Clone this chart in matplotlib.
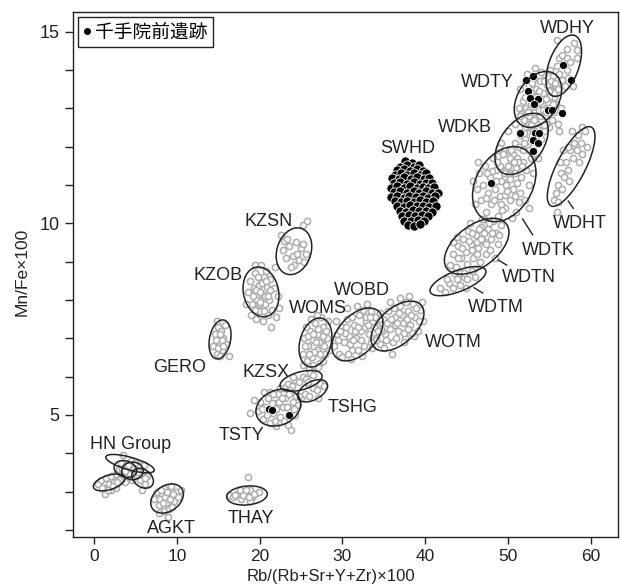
import numpy as np
import matplotlib
matplotlib.use("Agg")
import matplotlib.pyplot as plt
from matplotlib.patches import Ellipse
from matplotlib.lines import Line2D

plt.rcParams['font.family'] = ['Liberation Sans', 'Noto Sans CJK JP', 'DejaVu Sans']

# ---- reference groups: gray points (Rb ratio, Mn/Fe) ----
WDHY = [(55.88, 14.78), (57.09, 14.54), (58.3, 14.52), (56.16, 14.31), (57.09, 14.31),
        (55.88, 14.09), (57.09, 14.0), (55.47, 13.83), (56.49, 13.74), (56.88, 13.57),
        (57.89, 13.58), (55.68, 13.61), (55.07, 13.48), (58.3, 14.31), (56.5, 14.4),
        (57.5, 14.2), (56.2, 13.9), (57.3, 13.8), (58.0, 14.7), (55.6, 13.3)]
WDTY = [(51.5, 13.5), (51.8, 13.2), (52.0, 13.7), (52.3, 13.9), (52.6, 13.6), (52.9, 13.4),
        (53.1, 13.8), (53.4, 13.5), (53.6, 13.2), (53.9, 13.7), (54.2, 13.4), (54.4, 13.9),
        (54.7, 13.6), (55.0, 13.3), (55.2, 13.7), (55.5, 13.4), (55.8, 13.1), (52.2, 13.0),
        (52.5, 12.8), (52.8, 13.1), (53.2, 12.9), (53.5, 12.6), (53.8, 12.95), (54.1, 13.1),
        (54.5, 12.8), (54.8, 13.0), (55.3, 12.7), (55.6, 12.9), (51.9, 12.7), (52.4, 12.5),
        (53.0, 12.4), (53.7, 12.5), (54.3, 12.4), (55.0, 12.5), (56.0, 12.6), (51.3, 13.0),
        (53.3, 14.05), (54.0, 13.95), (55.1, 14.0), (56.1, 13.5), (56.4, 13.0), (52.7, 13.35),
        (54.6, 13.25), (53.0, 13.15), (51.6, 12.85), (56.2, 12.4),
        (52.1, 13.3), (52.9, 13.65), (53.4, 13.3), (53.8, 13.45), (54.2, 12.95), (54.9, 13.45),
        (55.4, 13.1), (53.3, 12.75), (54.6, 12.6), (55.7, 13.65), (52.6, 12.95), (53.9, 13.15),
        (54.4, 13.7)]
WDKB = [(49.0, 11.5), (49.4, 11.8), (49.8, 11.4), (50.1, 11.9), (50.4, 11.6), (50.8, 12.1),
        (51.1, 11.7), (51.4, 12.3), (51.7, 11.95), (52.0, 12.5), (52.3, 12.15), (52.6, 12.6),
        (52.9, 12.3), (53.2, 12.7), (53.5, 12.45), (53.9, 12.8), (54.3, 12.55), (49.6, 11.2),
        (50.3, 11.3), (51.0, 11.45), (51.8, 11.6), (52.5, 11.9), (53.0, 12.0), (54.0, 12.2),
        (49.2, 12.1), (50.0, 12.4), (50.9, 12.6), (51.5, 12.8), (52.4, 12.9), (48.8, 11.75),
        (54.6, 12.9), (53.6, 11.7), (50.6, 11.8), (51.3, 12.0), (52.1, 12.2), (52.8, 12.55),
        (51.9, 12.35), (50.2, 11.7), (53.3, 12.4)]
WDTK = [(46.2, 10.9), (46.5, 11.3), (46.8, 10.6), (47.0, 11.0), (47.2, 11.5), (47.4, 10.3),
        (47.6, 10.8), (47.8, 11.2), (48.0, 10.5), (48.2, 11.7), (48.4, 10.9), (48.6, 11.4),
        (48.8, 10.2), (49.0, 10.7), (49.2, 11.1), (49.4, 11.8), (49.6, 10.4), (49.8, 11.0),
        (50.0, 11.5), (50.2, 10.6), (50.4, 11.9), (50.6, 10.9), (50.8, 11.3), (51.0, 10.3),
        (51.2, 11.6), (51.4, 10.8), (51.6, 11.2), (51.8, 11.9), (52.0, 10.6), (52.2, 11.4),
        (52.5, 11.0), (52.8, 11.7), (47.1, 10.1), (46.4, 11.6), (48.9, 11.95), (50.5, 10.15),
        (49.3, 10.35), (47.9, 10.05), (52.6, 10.4), (46.0, 10.5), (48.3, 10.6), (51.1, 11.05),
        (50.1, 11.25), (49.7, 10.75), (48.1, 11.35), (53.0, 11.3), (45.8, 11.1), (51.9, 12.1),
        (47.3, 10.65), (48.5, 11.1), (49.1, 10.5), (49.9, 10.85), (50.7, 11.6), (51.3, 10.55),
        (48.7, 11.6), (50.3, 11.15), (51.7, 11.5), (47.5, 11.3), (50.9, 10.7), (49.5, 11.3)]
WDHT = [(55.5, 10.6), (55.8, 10.8), (56.0, 10.55), (56.1, 11.0), (56.5, 10.9), (56.4, 11.3),
        (56.8, 11.2), (57.0, 11.6), (57.3, 11.4), (57.5, 11.9), (57.8, 11.7), (58.0, 12.1),
        (58.3, 11.9), (58.5, 12.3), (58.8, 12.1), (59.0, 12.5), (59.3, 12.4), (57.2, 12.0),
        (58.6, 11.6), (56.7, 11.9), (59.5, 12.0), (55.9, 10.3), (57.7, 12.4), (58.9, 11.8),
        (56.3, 11.6), (57.4, 11.1)]
WDTN = [(43.0, 8.9), (43.4, 9.2), (43.7, 8.85), (44.0, 9.4), (44.3, 9.1), (44.6, 9.6),
        (44.9, 9.25), (45.2, 9.8), (45.5, 9.45), (45.8, 9.1), (46.1, 9.7), (46.4, 9.35),
        (46.7, 9.9), (47.0, 9.55), (47.3, 9.2), (47.6, 9.85), (47.9, 9.6), (48.2, 10.05),
        (48.5, 9.75), (48.8, 9.45), (49.1, 9.95), (44.2, 8.7), (45.0, 8.95), (45.9, 8.8),
        (46.6, 9.0), (47.8, 9.3), (43.8, 9.65), (45.4, 10.0), (46.9, 10.1), (48.4, 9.1),
        (44.7, 8.6), (46.2, 9.5), (47.1, 9.75), (43.3, 9.5), (44.5, 9.35), (45.3, 9.55),
        (45.7, 9.75), (46.3, 9.2), (46.8, 9.6), (47.4, 9.45), (47.7, 10.0), (48.1, 9.75),
        (44.0, 9.1), (45.6, 9.3), (46.5, 9.85), (48.9, 9.7)]
WDTM = [(41.8, 8.3), (42.4, 8.2), (42.9, 8.45), (43.3, 8.3), (43.8, 8.55), (44.2, 8.4),
        (44.7, 8.7), (45.1, 8.55), (45.6, 8.75), (46.0, 8.6), (43.5, 8.7), (44.9, 8.3),
        (42.6, 8.55)]
WOTM = [(34.0, 7.0), (34.3, 7.3), (34.6, 6.85), (34.9, 7.5), (35.2, 7.1), (35.5, 7.7),
        (35.8, 7.25), (36.1, 6.9), (36.4, 7.55), (36.7, 7.2), (37.0, 7.85), (37.3, 7.4),
        (37.6, 7.0), (37.9, 7.7), (38.2, 7.35), (38.5, 7.9), (38.8, 7.55), (39.1, 7.2),
        (39.4, 7.75), (35.0, 6.75), (36.0, 6.6), (37.5, 6.9), (38.6, 7.05), (35.7, 7.95),
        (36.9, 8.05), (38.0, 8.1), (34.5, 7.65), (39.7, 7.45), (36.3, 7.35), (37.2, 7.6),
        (34.8, 7.2), (35.4, 7.4), (35.9, 7.5), (36.5, 7.0), (36.8, 7.65), (37.4, 7.15),
        (37.8, 7.5), (38.3, 7.6), (38.9, 7.8), (39.2, 7.45), (35.3, 6.95), (36.2, 7.8),
        (37.7, 7.95), (38.4, 7.15), (39.6, 7.95), (34.2, 7.5), (36.6, 7.4), (37.9, 7.25)]
WOBD = [(29.0, 6.8), (29.3, 7.1), (29.6, 6.6), (29.9, 7.3), (30.2, 6.9), (30.5, 7.5),
        (30.8, 7.05), (31.1, 6.7), (31.4, 7.35), (31.7, 7.0), (32.0, 7.6), (32.3, 7.2),
        (32.6, 6.8), (32.9, 7.45), (33.2, 7.1), (33.5, 7.7), (33.8, 7.3), (34.1, 6.95),
        (34.4, 7.5), (30.0, 6.5), (31.0, 6.45), (32.4, 6.55), (33.6, 6.75), (30.6, 7.8),
        (31.8, 7.85), (33.0, 7.9), (29.2, 7.45), (34.7, 7.25), (31.5, 7.2), (32.8, 7.55),
        (29.5, 6.95), (30.3, 7.15), (30.9, 6.85), (31.3, 6.95), (31.9, 7.3), (32.2, 6.95),
        (32.7, 7.3), (33.1, 7.35), (33.4, 6.9), (30.4, 7.3), (31.2, 7.55), (32.5, 7.75),
        (33.9, 7.55), (30.7, 6.6), (31.9, 6.7), (33.3, 7.55), (29.7, 7.2), (34.3, 7.2)]
WOMS = [(25.2, 6.6), (25.4, 7.0), (25.7, 6.4), (25.9, 6.8), (26.1, 7.2), (26.3, 6.5),
        (26.5, 6.95), (26.7, 7.4), (26.9, 6.7), (27.1, 7.1), (27.3, 6.35), (27.5, 6.85),
        (27.7, 7.3), (27.9, 6.6), (28.1, 7.0), (28.3, 7.45), (25.6, 7.3), (26.2, 7.5),
        (27.4, 7.55), (28.4, 6.7), (26.0, 6.2), (27.0, 6.25), (26.6, 6.65), (27.2, 6.9),
        (25.5, 6.8), (25.8, 7.05), (26.0, 6.6), (26.4, 7.1), (26.8, 6.9), (27.0, 7.25),
        (27.3, 6.6), (27.6, 7.05), (27.8, 6.8), (28.0, 7.2), (26.4, 6.3), (27.6, 6.4),
        (25.3, 6.3), (26.9, 7.6)]
KZSX = [(22.9, 5.7), (23.4, 5.8), (23.9, 5.75), (24.3, 5.9), (24.8, 5.85), (25.2, 6.0),
        (25.6, 5.95), (26.1, 6.1), (26.5, 6.05), (24.0, 6.0), (25.9, 5.8), (23.6, 5.65)]
TSHG = [(25.0, 5.45), (25.5, 5.55), (26.0, 5.5), (26.4, 5.7), (26.9, 5.65), (27.3, 5.8),
        (27.8, 5.75), (25.8, 5.85), (27.0, 5.45)]
TSTY = [(19.8, 5.1), (20.1, 5.35), (20.4, 4.9), (20.7, 5.2), (21.0, 5.45), (21.3, 4.8),
        (21.6, 5.05), (21.9, 5.3), (22.2, 5.55), (22.5, 4.95), (22.8, 5.2), (23.1, 5.45),
        (23.4, 4.75), (23.7, 5.1), (24.0, 5.35), (24.3, 5.0), (24.6, 5.25), (22.0, 4.7),
        (21.2, 5.6), (23.0, 5.7), (24.8, 5.5), (18.8, 5.05), (19.3, 5.4), (20.5, 5.6),
        (23.8, 4.6), (20.9, 5.0), (21.5, 5.3), (22.0, 5.15), (22.4, 5.35), (22.7, 5.45),
        (23.3, 5.2), (23.5, 5.55), (24.1, 5.15), (21.8, 4.85), (22.9, 4.85), (20.3, 5.15),
        (24.4, 5.5), (22.5, 5.7), (21.6, 5.55)]
KZSN = [(22.8, 9.3), (23.0, 9.55), (23.3, 9.6), (23.6, 9.4), (24.0, 9.15), (24.2, 8.9),
        (24.5, 9.2), (24.8, 9.05), (25.0, 9.35), (25.3, 9.45), (25.6, 9.2), (23.8, 8.85),
        (24.4, 9.5), (23.2, 9.1), (25.4, 9.0), (25.2, 9.95), (25.7, 10.05), (22.6, 9.7)]
KZOB = [(18.6, 8.2), (18.9, 8.5), (19.1, 7.9), (19.3, 8.3), (19.5, 8.7), (19.7, 8.0),
        (19.9, 8.4), (20.1, 7.7), (20.3, 8.15), (20.5, 8.6), (20.7, 7.9), (20.9, 8.35),
        (21.1, 8.0), (21.3, 8.55), (21.5, 7.75), (19.0, 7.6), (19.6, 7.5), (20.4, 7.45),
        (21.0, 7.6), (19.4, 8.9), (20.2, 8.9), (20.8, 8.75), (21.7, 8.3), (22.2, 8.1),
        (22.0, 7.55), (18.4, 7.9), (21.4, 7.3), (21.9, 8.85), (22.4, 7.8), (19.2, 8.1),
        (19.6, 8.25), (19.9, 7.9), (20.0, 8.2), (20.3, 8.45), (20.6, 8.1), (20.0, 7.95),
        (20.8, 8.5), (19.8, 8.6), (21.2, 8.25), (20.5, 7.7), (19.4, 7.75), (21.0, 8.1)]
GERO = [(14.4, 6.8), (14.6, 7.1), (14.8, 6.6), (15.0, 7.3), (15.1, 6.9), (15.3, 7.2),
        (15.5, 6.7), (15.6, 7.0), (15.8, 7.35), (15.2, 6.55), (14.9, 7.45), (16.0, 6.85),
        (16.3, 6.55), (15.0, 6.75), (15.4, 6.95), (15.2, 7.1), (15.6, 6.8), (14.7, 6.95)]
HN = [(0.5, 3.2), (0.9, 3.3), (1.2, 3.1), (1.5, 3.35), (1.8, 3.2), (2.1, 3.4), (2.4, 3.25),
      (2.7, 3.45), (3.0, 3.3), (1.3, 2.95), (2.0, 3.05), (2.6, 3.1), (3.0, 3.6), (3.3, 3.75),
      (3.6, 3.5), (3.9, 3.7), (4.2, 3.55), (4.5, 3.8), (4.8, 3.6), (5.1, 3.45), (5.4, 3.7),
      (3.5, 3.95), (4.0, 3.35), (4.6, 3.3), (5.6, 3.3), (5.9, 3.5), (6.2, 3.2), (6.4, 3.4),
      (5.8, 3.05), (6.0, 3.7), (3.7, 3.25), (1.0, 3.1), (1.7, 3.05), (2.3, 3.15), (2.8, 3.25),
      (3.4, 3.6), (4.1, 3.7), (4.4, 3.45), (4.9, 3.75), (3.8, 3.55), (5.7, 3.45), (6.1, 3.35),
      (5.3, 3.5)]
AGKT = [(7.3, 2.8), (7.6, 3.0), (7.9, 2.65), (8.2, 2.9), (8.5, 3.1), (8.7, 2.7), (9.0, 2.95),
        (9.3, 3.15), (9.6, 2.75), (9.9, 3.0), (10.2, 2.85), (8.4, 2.5), (9.1, 2.55),
        (10.5, 3.05), (7.8, 2.45), (8.9, 2.35), (8.0, 2.8), (8.6, 2.85), (8.8, 3.0),
        (9.2, 2.8), (9.5, 2.95), (8.3, 2.7), (9.4, 2.6), (8.1, 3.05)]
THAY = [(16.3, 2.9), (16.8, 2.85), (17.3, 2.95), (17.8, 2.8), (18.2, 3.0), (18.5, 2.9),
        (18.8, 3.05), (19.1, 2.85), (19.5, 2.95), (19.9, 3.0), (17.6, 3.05), (18.9, 2.75),
        (18.63, 3.37), (17.0, 2.9), (18.0, 2.9), (18.4, 3.05), (19.3, 2.95), (18.7, 2.85)]

# ---- 千手院前遺跡 artefacts (black) ----
SITE_SWHD = [(37.6, 11.62), (38.4, 11.58),
             (37.0, 11.48), (37.8, 11.52), (38.7, 11.47), (39.3, 11.53),
             (36.6, 11.38), (37.4, 11.42), (38.2, 11.36), (39.0, 11.41), (39.7, 11.37),
             (36.3, 11.27), (37.1, 11.31), (37.8, 11.25), (38.6, 11.30), (39.4, 11.26), (40.1, 11.32),
             (36.0, 11.18), (36.8, 11.15), (37.5, 11.20), (38.3, 11.16), (39.0, 11.21), (39.8, 11.15),
             (40.5, 11.19),
             (36.2, 11.05), (37.0, 11.08), (37.8, 11.03), (38.6, 11.07), (39.4, 11.02), (40.1, 11.06),
             (40.8, 11.04),
             (35.9, 10.93), (36.6, 10.96), (37.4, 10.92), (38.2, 10.97), (39.0, 10.93), (39.7, 10.95),
             (40.4, 10.91), (41.1, 10.95),
             (36.2, 10.82), (37.0, 10.85), (37.8, 10.80), (38.6, 10.84), (39.3, 10.79), (40.1, 10.83),
             (40.8, 10.80), (41.5, 10.78),
             (35.9, 10.69), (36.6, 10.72), (37.4, 10.67), (38.1, 10.71), (38.9, 10.68), (39.7, 10.72),
             (40.4, 10.67), (41.2, 10.70),
             (36.3, 10.58), (37.1, 10.55), (37.8, 10.59), (38.6, 10.56), (39.4, 10.60), (40.1, 10.55),
             (40.9, 10.58),
             (36.6, 10.45), (37.4, 10.43), (38.2, 10.47), (39.0, 10.44), (39.7, 10.46), (40.5, 10.42),
             (41.3, 10.46),
             (36.9, 10.32), (37.7, 10.30), (38.5, 10.34), (39.3, 10.31), (40.1, 10.33), (40.8, 10.29),
             (37.2, 10.19), (38.0, 10.21), (38.8, 10.18), (39.6, 10.22), (40.3, 10.19),
             (37.5, 10.07), (38.3, 10.05), (39.1, 10.08), (39.9, 10.06),
             (37.9, 9.95), (38.7, 9.93), (39.4, 9.97)]
SITE_OTHER = [(56.68, 14.13), (57.6, 13.74),
              (52.14, 13.74), (53.06, 13.83), (52.45, 13.46), (52.66, 13.26), (53.66, 13.24),
              (53.18, 13.11), (54.87, 12.96), (55.28, 12.96), (56.56, 12.87),
              (51.45, 12.35), (53.26, 12.35), (53.78, 12.35), (53.06, 12.17), (53.66, 12.10),
              (53.06, 11.89),
              (47.95, 11.05),
              (21.17, 5.16), (21.45, 5.12), (23.59, 5.0)]

# ---- group ellipses: centre, half-extent in x and y, correlation ----
ell_cx = [56.74, 53.62, 51.65, 49.55, 57.63, 46.22, 43.96, 36.65, 31.82, 26.75,
          25.0, 26.39, 22.26, 24.15, 20.17, 15.22, 4.35, 3.79, 4.65, 5.86, 1.83, 8.82, 18.48]
ell_cy = [14.11, 13.23, 12.07, 11.02, 11.48, 9.40, 8.49, 7.32, 7.10, 6.89,
          5.89, 5.63, 5.19, 9.27, 8.21, 6.97, 3.73, 3.59, 3.54, 3.35, 3.24, 2.82, 2.90]
ell_sx = [2.15, 2.86, 3.22, 3.83, 2.88, 3.9, 3.38, 3.2, 3.08, 1.99,
          2.54, 1.81, 2.7, 2.15, 2.17, 1.33, 2.93, 1.37, 1.31, 1.31, 1.91, 1.97, 2.45]
ell_sy = [0.80, 0.73, 0.80, 0.98, 1.04, 0.73, 0.38, 0.65, 0.69, 0.64,
          0.27, 0.29, 0.48, 0.61, 0.65, 0.51, 0.24, 0.22, 0.23, 0.26, 0.22, 0.38, 0.25]
ell_r = [0.47, 0.35, 0.45, 0.3, 0.75, 0.5, 0.65, 0.51, 0.46, 0.25,
         0.45, 0.46, 0.2, 0.2, -0.15, 0.24, -0.7, -0.2, 0.0, -0.3, 0.47, 0.3, 0.15]

# ---- group labels (text, x, baseline y) ----
label_text = ["WDHY", "WDTY", "WDKB", "SWHD", "WDHT", "WDTK", "WDTN", "WDTM", "WOTM",
              "WOBD", "WOMS", "KZSX", "TSHG", "TSTY", "GERO", "KZOB", "KZSN",
              "HN Group", "AGKT", "THAY"]
label_x = [57.19, 47.52, 44.81, 37.92, 58.70, 54.89, 52.48, 48.55, 43.42,
           32.33, 26.99, 20.77, 31.22, 17.81, 10.39, 14.98, 21.05, 4.44, 9.30, 19.0]
label_y = [14.97, 13.56, 12.38, 11.84, 9.88, 9.17, 8.47, 7.68, 6.78,
           8.13, 7.65, 6.0, 5.09, 4.35, 6.13, 8.52, 9.93, 4.10, 1.91, 2.19]

# leader lines: (x0, y0, x1, y1)
leader_lines = [(57.28, 10.58, 57.89, 10.39),   # WDHT
                (51.77, 10.11, 52.98, 9.70),    # WDTK
                (48.83, 9.04, 49.84, 8.91),     # WDTN
                (45.89, 8.32, 46.94, 8.18)]     # WDTM

gray_groups = [WDHY, WDTY, WDKB, WDTK, WDHT, WDTN, WDTM, WOTM, WOBD, WOMS,
               KZSX, TSHG, TSTY, KZSN, KZOB, GERO, HN, AGKT, THAY]

fig = plt.figure(figsize=(6.21, 5.88), dpi=100)
ax = fig.add_axes([73 / 621, 51 / 588, 545 / 621, 525 / 588])

gray = '#acacac'
for grp in gray_groups:
    pts = np.array(grp)
    ax.scatter(pts[:, 0], pts[:, 1], s=20, facecolors='white', edgecolors=gray,
               linewidths=1.1, zorder=2)

sw = np.array(SITE_SWHD)
ax.scatter(sw[:, 0], sw[:, 1], s=44, c='black', edgecolors='white', linewidths=0.6, zorder=3)
ot = np.array(SITE_OTHER)
ax.scatter(ot[:, 0], ot[:, 1], s=34, c='black', edgecolors='white', linewidths=0.6, zorder=3)

# probability ellipses built from a covariance matrix
for cx, cy, sx, sy, r in zip(ell_cx, ell_cy, ell_sx, ell_sy, ell_r):
    cov = np.array([[sx * sx, r * sx * sy], [r * sx * sy, sy * sy]])
    vals, vecs = np.linalg.eigh(cov)
    angle = np.degrees(np.arctan2(vecs[1, 1], vecs[0, 1]))
    ax.add_patch(Ellipse((cx, cy), 2 * np.sqrt(vals[1]), 2 * np.sqrt(vals[0]), angle=angle,
                         fill=False, edgecolor='#222222', linewidth=1.1, zorder=4))

for x0, y0, x1, y1 in leader_lines:
    ax.plot([x0, x1], [y0, y1], color='#222222', linewidth=1.0, zorder=4)

for t, x, y in zip(label_text, label_x, label_y):
    ax.text(x, y, t, ha='center', va='baseline', fontsize=13, color='#222222', zorder=5)

ax.set_xlim(-2.54, 63.29)
ax.set_ylim(1.817, 15.51)
ax.set_xticks([0, 10, 20, 30, 40, 50, 60])
ax.set_yticks([5, 10, 15])
ax.set_yticks([2, 3, 4, 6, 7, 8, 9, 11, 12, 13, 14], minor=True)
ax.tick_params(axis='both', which='both', direction='out', length=5.5, width=1.0,
               labelsize=13, colors='#222222', pad=4)
ax.tick_params(axis='x', length=5, pad=3.5, labelsize=12.5)
for sp in ax.spines.values():
    sp.set_linewidth(1.0)
    sp.set_color('#222222')

ax.set_xlabel("Rb/(Rb+Sr+Y+Zr)×100", fontsize=12, color='#222222')
ax.xaxis.set_label_coords(0.473, -0.060)
ax.set_ylabel("Mn/Fe×100", fontsize=12.5, color='#222222')
ax.yaxis.set_label_coords(-0.079, 0.505)

handle = Line2D([], [], marker='o', color='black', linestyle='none', markersize=4)
leg = ax.legend([handle], ["千手院前遺跡"], loc='upper left', fancybox=False,
                edgecolor='#222222', framealpha=1, handlelength=0.5,
                handletextpad=0.2, borderpad=0.25, borderaxespad=0.25,
                prop={'family': ['Noto Sans CJK JP', 'DejaVu Sans'], 'size': 13.5})
leg.get_frame().set_linewidth(1.0)

fig.savefig("out.png", dpi=100)
